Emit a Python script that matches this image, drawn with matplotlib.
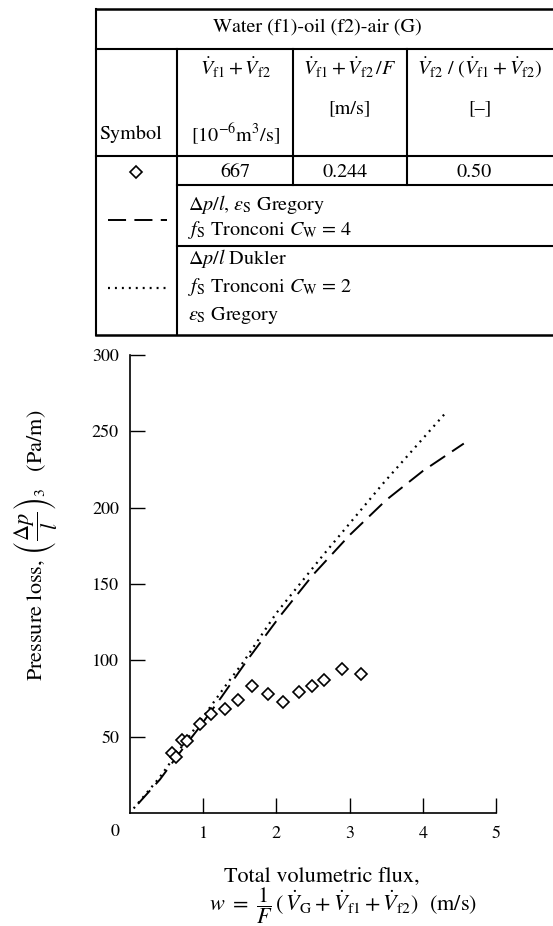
import matplotlib
matplotlib.use('Agg')
import matplotlib.pyplot as plt
from matplotlib.lines import Line2D

# measured pressure loss, water (f1) - oil (f2) - air (G)
w_meas = [0.57, 0.63, 0.71, 0.78, 0.95, 1.11, 1.30, 1.48, 1.66, 1.88, 2.09, 2.31, 2.48, 2.65, 2.90, 3.15]
dp_meas = [39, 37, 48, 47, 58, 65, 68, 74, 83, 78, 73, 79, 83, 87, 94, 91]

# dp/l, eps_S Gregory, f_S Tronconi C_W = 4
w_dash = [0.11, 0.41, 0.64, 0.93, 1.25, 1.60, 2.05, 2.50, 3.00, 3.50, 4.00, 4.56]
dp_dash = [6, 22, 37, 55, 76, 100, 129, 156, 182, 205, 224, 242]

# dp/l Dukler, f_S Tronconi C_W = 2, eps_S Gregory
w_dot = [0.05, 0.40, 0.70, 1.00, 1.30, 1.55, 2.00, 2.64, 3.46, 4.31]
dp_dot = [3, 23, 43, 63, 83, 99, 131, 169, 216, 262]

x_ticks = [1, 2, 3, 4, 5]
y_ticks = [50, 100, 150, 200, 250, 300]

plt.rcParams['font.family'] = 'STIXGeneral'
plt.rcParams['mathtext.fontset'] = 'stix'
plt.rcParams['lines.scale_dashes'] = False

W, H = 553, 926
fig = plt.figure(figsize=(W / 100, H / 100), dpi=100)


def fx(x):
    return x / W


def fy(y):
    return 1 - y / H


DASH = (13, 6)
DOT = (1.4, 3.6)

# ---- plot ----
ax = fig.add_axes([fx(130), fy(813), fx(496) - fx(130), fy(355) - fy(813)])
ax.plot(w_dash, dp_dash, color='k', lw=1.4, dashes=DASH)
ax.plot(w_dot, dp_dot, color='k', lw=1.6, dashes=DOT)
ax.plot(w_meas, dp_meas, ls='none', marker='D', ms=6.5, mfc='white', mec='k', mew=1.2)
ax.set_xlim(0, 5)
ax.set_ylim(0, 300)
for s in ['top', 'right']:
    ax.spines[s].set_visible(False)
for s in ['left', 'bottom']:
    ax.spines[s].set_linewidth(1.2)
ax.set_xticks(x_ticks)
ax.set_yticks(y_ticks)
ax.tick_params(direction='in', length=11, width=1, labelsize=13)
ax.tick_params(axis='x', pad=9)
ax.tick_params(axis='y', pad=8)
ax.annotate('0', xy=(0, 0), xytext=(-15, -19), textcoords='offset pixels',
            ha='center', va='center', fontsize=13)

fs_ax = 16
fig.text(fx(35), fy(545), r'Pressure loss, $\left(\dfrac{\Delta p}{l}\right)_{3}$   (Pa/m)',
         rotation=90, ha='center', va='center', fontsize=fs_ax)
fig.text(fx(322), fy(877), 'Total volumetric flux,', ha='center', va='center', fontsize=fs_ax)
fig.text(fx(343), fy(906),
         r'$w\ =\ \dfrac{1}{F}\,(\,\dot{V}_{\mathrm{G}} + \dot{V}_{\mathrm{f1}} + \dot{V}_{\mathrm{f2}})$  (m/s)',
         ha='center', va='center', fontsize=fs_ax)

# ---- table ----
def hline(y, x0, x1, lw=1.5):
    fig.add_artist(Line2D([fx(x0), fx(x1)], [fy(y), fy(y)], color='k', lw=lw))


def vline(x, y0, y1, lw=1.5):
    fig.add_artist(Line2D([fx(x), fx(x)], [fy(y0), fy(y1)], color='k', lw=lw))


hline(9, 96, 553, lw=1.8)
hline(49, 96, 553)
hline(156, 96, 553)
hline(185, 177, 553)
hline(246, 177, 553)
hline(335, 96, 553, lw=1.8)
vline(96, 9, 335)
vline(177, 49, 335)
vline(293, 49, 185)
vline(407, 49, 185)

fs = 14.5
fig.text(fx(317), fy(27), 'Water (f1)-oil (f2)-air (G)', ha='center', va='center', fontsize=fs)
fig.text(fx(99), fy(134), 'Symbol', ha='left', va='center', fontsize=fs)
fig.text(fx(235), fy(68), r'$\dot{V}_{\mathrm{f1}} + \dot{V}_{\mathrm{f2}}$', ha='center', va='center', fontsize=fs)
fig.text(fx(235), fy(134), r'[10$^{-6}$m$^{3}$/s]', ha='center', va='center', fontsize=fs)
fig.text(fx(350), fy(68), r'$\dot{V}_{\mathrm{f1}} + \dot{V}_{\mathrm{f2}}\,/F$', ha='center', va='center', fontsize=fs)
fig.text(fx(350), fy(109), '[m/s]', ha='center', va='center', fontsize=fs)
fig.text(fx(480), fy(68), r'$\dot{V}_{\mathrm{f2}}\ /\ (\dot{V}_{\mathrm{f1}} + \dot{V}_{\mathrm{f2}})$',
         ha='center', va='center', fontsize=fs)
fig.text(fx(480), fy(109), '[\u2013]', ha='center', va='center', fontsize=fs)

fig.add_artist(Line2D([fx(136)], [fy(172)], marker='D', ms=6.5, mfc='white', mec='k', mew=1.2))
fig.text(fx(235), fy(172), '667', ha='center', va='center', fontsize=fs)
fig.text(fx(345), fy(172), '0.244', ha='center', va='center', fontsize=fs)
fig.text(fx(474), fy(172), '0.50', ha='center', va='center', fontsize=fs)

fig.add_artist(Line2D([fx(108), fx(167)], [fy(220), fy(220)], color='k', lw=1.4, dashes=DASH))
fig.text(fx(188), fy(204), r'$\Delta p/l$, $\varepsilon_{\mathrm{S}}$ Gregory', ha='left', va='center', fontsize=fs)
fig.text(fx(188), fy(230), r'$f_{\mathrm{S}}$ Tronconi $C_{\mathrm{W}}$ = 4', ha='left', va='center', fontsize=fs)

fig.add_artist(Line2D([fx(108), fx(167)], [fy(288), fy(288)], color='k', lw=1.6, dashes=DOT))
fig.text(fx(188), fy(259), r'$\Delta p/l$ Dukler', ha='left', va='center', fontsize=fs)
fig.text(fx(188), fy(287), r'$f_{\mathrm{S}}$ Tronconi $C_{\mathrm{W}}$ = 2', ha='left', va='center', fontsize=fs)
fig.text(fx(188), fy(315), r'$\varepsilon_{\mathrm{S}}$ Gregory', ha='left', va='center', fontsize=fs)

fig.savefig('out.png', dpi=100)
